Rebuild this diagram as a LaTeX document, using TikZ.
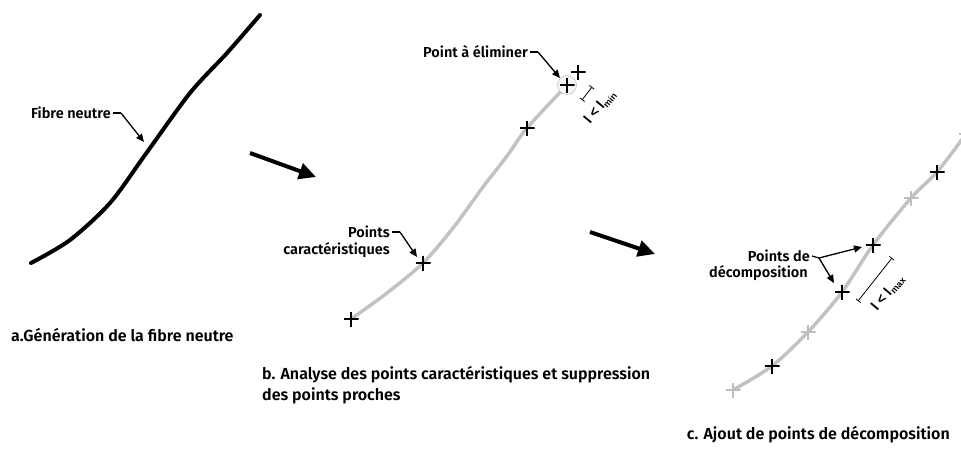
\documentclass[tikz,border=0pt]{standalone}
\usepackage{fontspec}
\setmainfont{Fira Sans}[UprightFont={* SemiBold},BoldFont={* Bold}]
\newfontfamily\dimfont{Liberation Sans}[UprightFont={* Bold}]
\usetikzlibrary{arrows.meta}
\definecolor{curvegrey}{HTML}{C2C2C2}
\definecolor{crossgrey}{HTML}{BDBDBD}
\tikzset{
  crossmk/.style={minimum size=15pt, inner sep=0pt, outer sep=0pt,
    path picture={\draw[line width=2.7pt, #1]
      (path picture bounding box.north) -- (path picture bounding box.south)
      (path picture bounding box.west) -- (path picture bounding box.east);}},
  bplus/.style={crossmk=black},
  gplus/.style={crossmk=crossgrey},
  fibre/.style={line width=4pt, line cap=round},
  greyfibre/.style={line width=3.5pt, draw=curvegrey},
  lbl/.style={inner sep=0pt, text=black, font=\fontsize{14.5}{18}\selectfont},
  captxt/.style={inner sep=0pt, text=black, font=\fontsize{16}{21}\selectfont},
  dimlbl/.style={inner sep=0pt, text=black, font=\dimfont\fontsize{14}{16}\selectfont},
  leader/.style={line width=1.3pt, -{Triangle[length=8pt,width=7pt]}},
  leaderline/.style={line width=1.3pt},
  bigarrow/.style={line width=4pt, -{Triangle[length=17pt,width=16pt]}},
  dimline/.style={line width=0.8pt, {Bar[width=6pt]}-{Bar[width=6pt]}},
}
\begin{document}
\begin{tikzpicture}[x=1pt,y=-1pt]
\useasboundingbox (0,0) rectangle (961,450);

% ---------- panel a ----------
\draw[fibre] plot[smooth, tension=0.5] coordinates {(31,263) (70,240) (110,203) (145,155) (190,93) (227,53) (260,15)};
\coordinate (fa) at (144,142);
\node[lbl, anchor=east] (lfib) at (111,113) {Fibre neutre};
\coordinate (fj) at (121,113);
\draw[leaderline] ([xshift=2pt]lfib.east) -- (fj);
\draw[leader] (fj) -- (fa);
\node[captxt, anchor=west] (capa) at (11,335) {a.Génération de la fibre neutre};

% arrows between panels
\coordinate (ar1s) at (250,153);
\coordinate (ar1e) at (316,177);
\draw[bigarrow] (ar1s) -- (ar1e);
\coordinate (ar2s) at (590,232);
\coordinate (ar2e) at (655,254);
\draw[bigarrow] (ar2s) -- (ar2e);

% ---------- panel b ----------
\draw[greyfibre] plot[smooth, tension=0.5] coordinates {(351,319) (387,293) (423,263) (453,228) (483,187) (507,156) (527,128) (567,85)};
\node[circle, draw=gray!70, densely dotted, line width=0.8pt, fill=gray!8, minimum size=19pt, inner sep=0pt] (elim) at (567,85) {};
\node[bplus] (b1) at (351,319) {};
\node[bplus] (b2) at (423,263) {};
\node[bplus] (b3) at (527,128) {};
\node[bplus] (b4) at (567,85) {};
\node[bplus] (b5) at (578,72) {};

\node[lbl, anchor=east] (lelim) at (528,52) {Point à éliminer};
\coordinate (ej) at (538,52);
\draw[leaderline] ([xshift=2pt]lelim.east) -- (ej);
\draw[leader] (ej) -- (elim.north west);

\node[lbl, anchor=east] (lpts) at (390,232) {Points};
\node[lbl, anchor=east] (lcar) at (390,250) {caractéristiques};
\coordinate (pj) at (400,232);
\coordinate (pt) at (417,257);
\draw[leaderline] ([xshift=2pt]lpts.east) -- (pj);
\draw[leader] (pj) -- (pt);

\coordinate (dm1) at (582,100);
\coordinate (dm2) at (592,87);
\draw[dimline] (dm1) -- (dm2);
\node[dimlbl, rotate=50] (lmin) at (600,107) {l < l\raisebox{-0.35ex}{\fontsize{9}{10}\selectfont min}};

\node[captxt, anchor=north west, align=left] (capb) at (262,366) {b. Analyse des points caractéristiques et suppression\\des points proches};

% ---------- panel c ----------
\draw[greyfibre] plot[smooth, tension=0.5] coordinates {(733,390) (772,366) (808,332) (842,292) (873,245) (911,198) (937,172) (966,134)};
\node[gplus] (c1) at (733,390) {};
\node[bplus] (c2) at (772,366) {};
\node[gplus] (c3) at (808,332) {};
\node[bplus] (c4) at (842,292) {};
\node[bplus] (c5) at (873,245) {};
\node[gplus] (c6) at (911,198) {};
\node[bplus] (c7) at (937,172) {};
\node[gplus] (c8) at (966,134) {};

\node[lbl, anchor=east] (ldec1) at (810,256) {Points de};
\node[lbl, anchor=east] (ldec2) at (808,273) {décomposition};
\coordinate (dj) at (819,258);
\coordinate (dt1) at (862,247);
\coordinate (dt2) at (834,283);
\draw[leaderline] ([xshift=2pt]ldec1.east) -- (dj);
\draw[leader] (dj) -- (dt1);
\draw[leader] (dj) -- (dt2);

\coordinate (dx1) at (858,301);
\coordinate (dx2) at (892,258);
\draw[dimline] (dx1) -- (dx2);
\node[dimlbl, rotate=50] (lmax) at (888,293) {l < l\raisebox{-0.35ex}{\fontsize{9}{10}\selectfont max}};

\node[captxt, anchor=east] (capc) at (950,435) {c. Ajout de points de décomposition};
\end{tikzpicture}
\end{document}
